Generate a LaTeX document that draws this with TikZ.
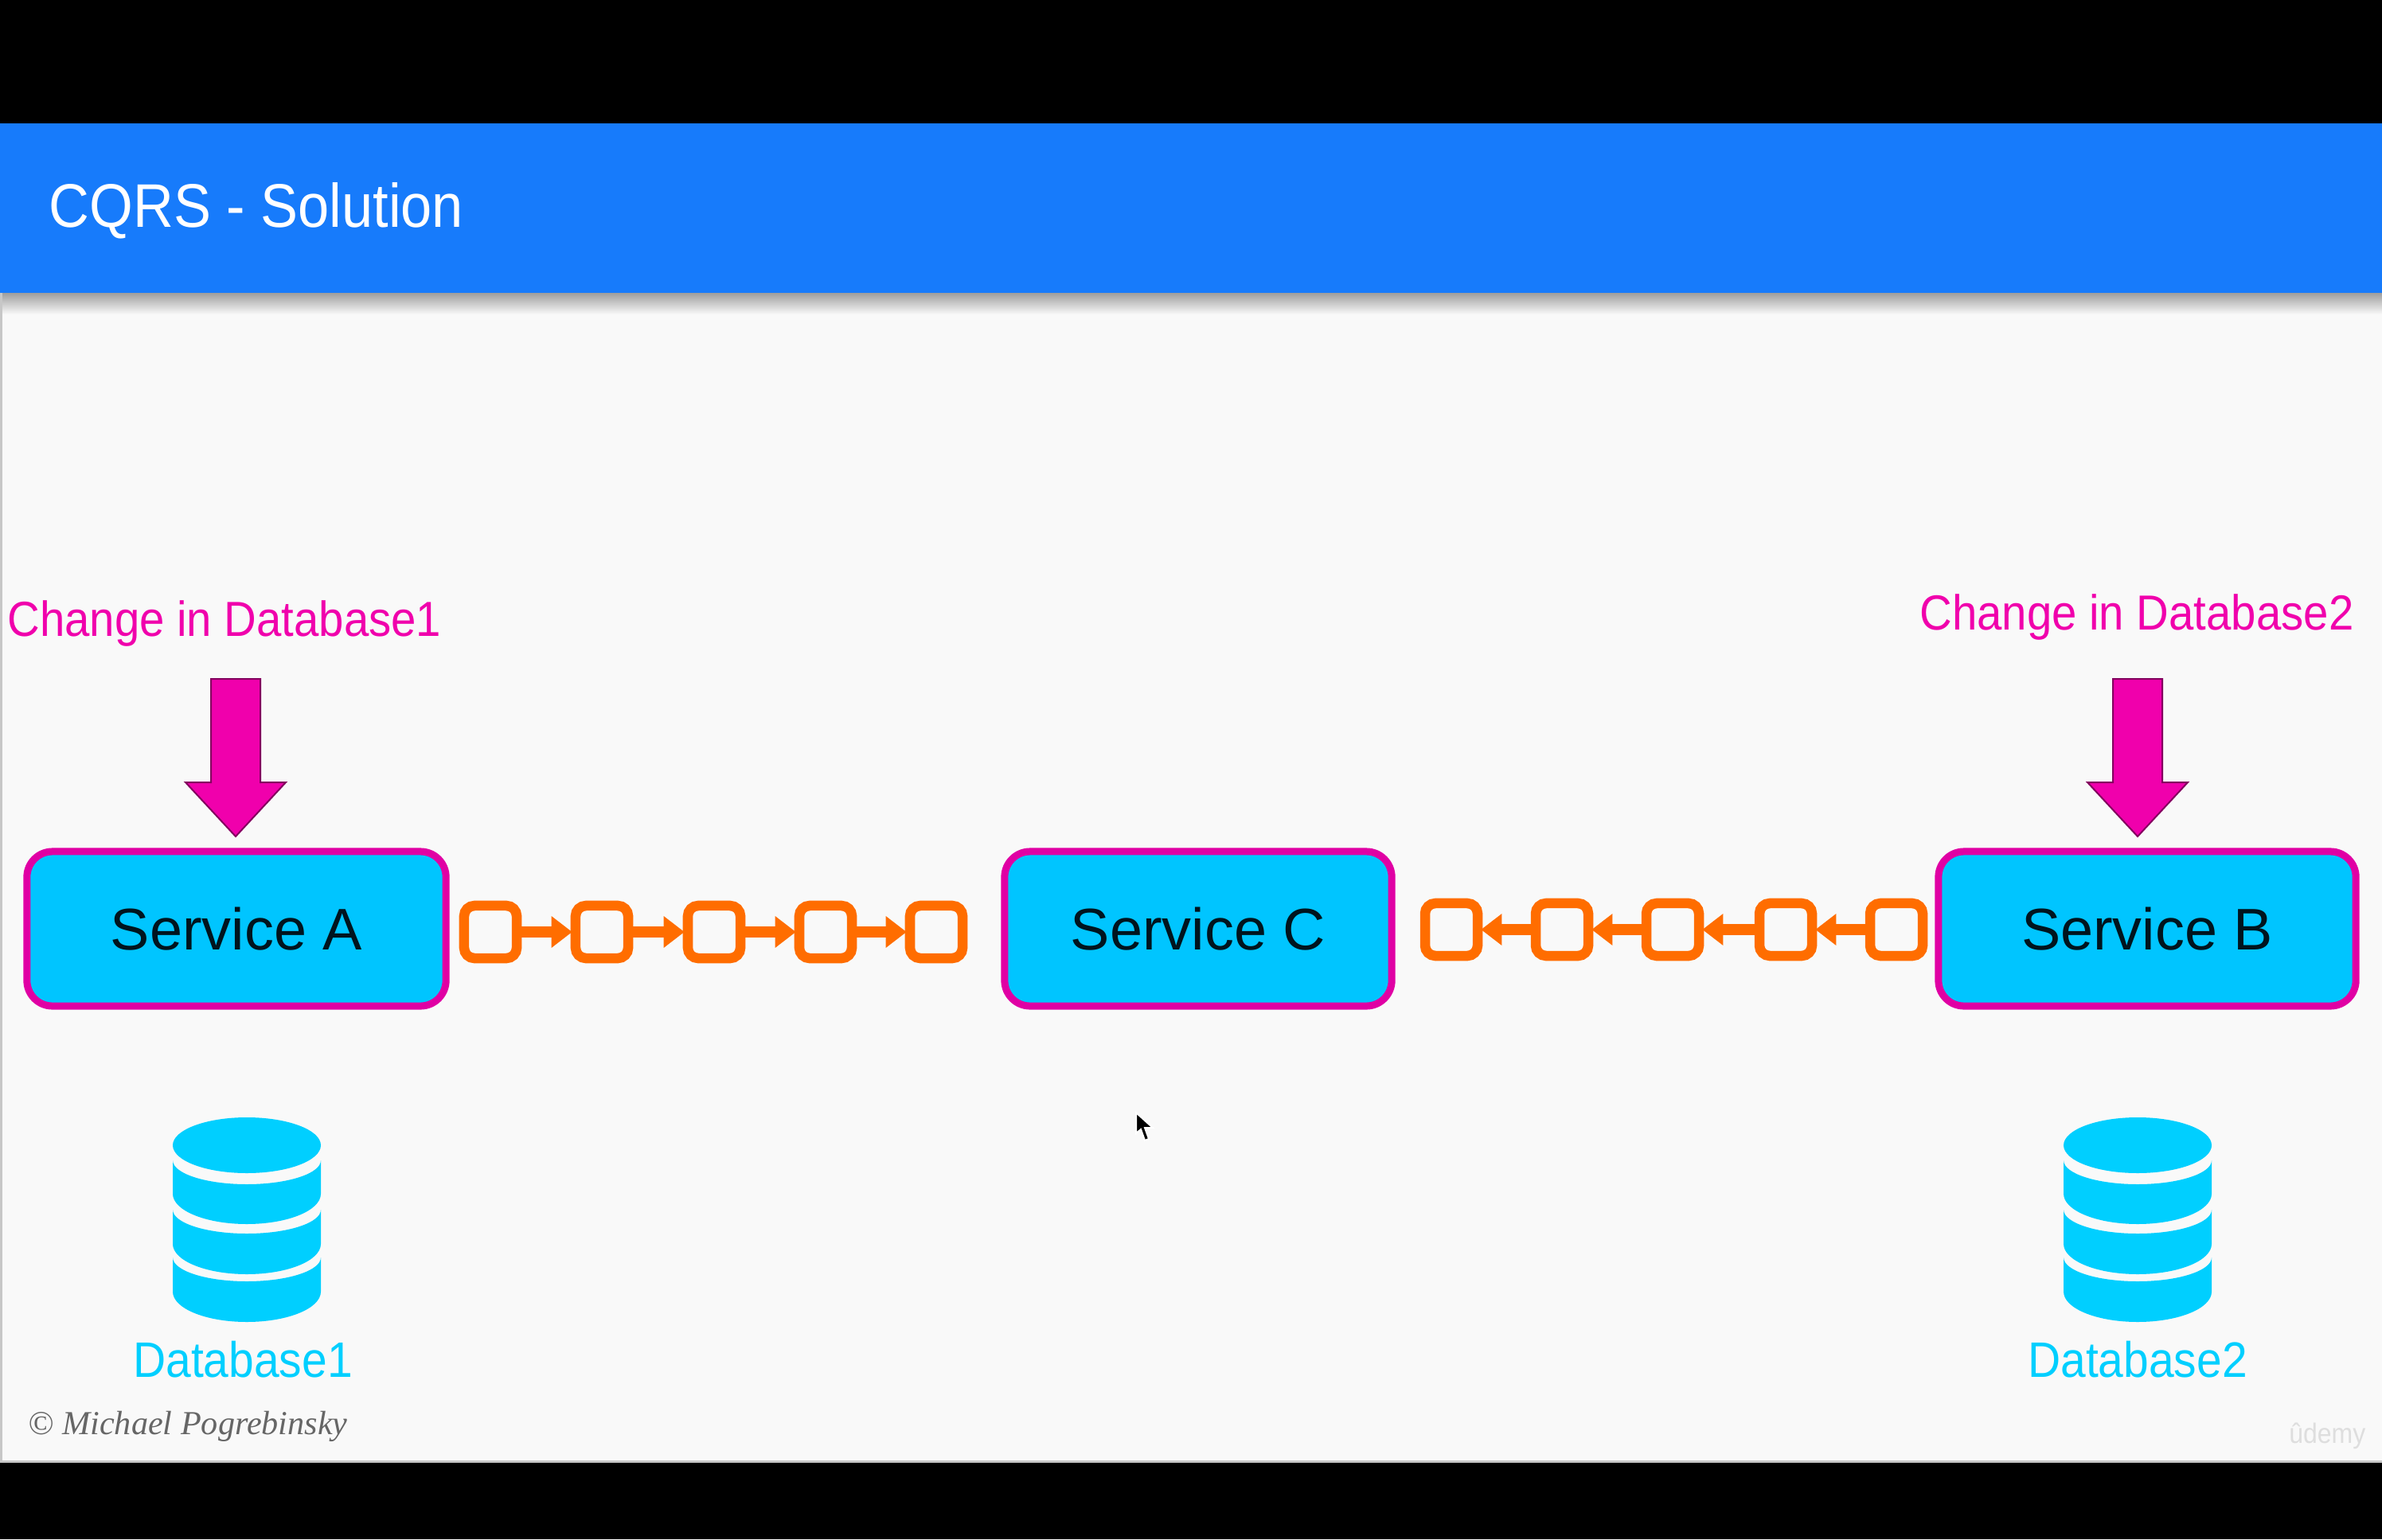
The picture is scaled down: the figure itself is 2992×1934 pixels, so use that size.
\documentclass[tikz,border=0pt]{standalone}
\usepackage{fontspec}
\setmainfont[FakeStretch=.91]{Liberation Sans}
\newfontfamily\boxfont{Liberation Sans}
\newfontfamily\signfont{Liberation Serif}
\usetikzlibrary{arrows.meta,shadings}
\definecolor{BarClr}{HTML}{177BFB}
\definecolor{PageClr}{HTML}{F9F9F9}
\definecolor{ServiceClr}{HTML}{00C5FF}
\definecolor{DbClr}{HTML}{00CFFF}
\definecolor{EdgeClr}{HTML}{E000A4}
\definecolor{ChangeClr}{HTML}{F000AC}
\definecolor{ChainClr}{HTML}{FF6D00}
\definecolor{InkClr}{HTML}{00141E}
\tikzset{
  service/.style={draw=EdgeClr,fill=ServiceClr,line width=.09cm,rounded corners=.32cm,
    minimum width=#1,minimum height=1.94cm,inner sep=0pt,
    font=\boxfont\fontsize{21}{25}\selectfont,text=InkClr},
  link/.style={draw=ChainClr,line width=.125cm,rounded corners=.13cm,
    minimum width=.66cm,minimum height=.66cm,inner sep=0pt},
  hop/.style={draw=ChainClr,line width=.14cm,-{Triangle[length=.26cm,width=.38cm]},shorten >=-.02cm},
  change/.style={text=ChangeClr,font=\fontsize{17.6}{21}\selectfont},
  dblabel/.style={text=DbClr,font=\fontsize{17.8}{21}\selectfont},
  pics/dbstack/.style={code={
    \fill[DbClr] (-93,0) arc[start angle=180,end angle=540,x radius=93,y radius=35];
    \foreach \ytop/\ybot in {1458/1500,1520/1563,1580/1623}{
      \pgfmathsetmacro{\ya}{\ytop-1439}
      \pgfmathsetmacro{\yb}{\ybot-1439}
      \fill[DbClr] (-93,\ya) arc[start angle=180,end angle=0,x radius=93,y radius=30]
        -- (93,\yb) arc[start angle=0,end angle=180,x radius=93,y radius=38] -- cycle;
    }
  }}
}

\begin{document}
\begin{tikzpicture}[x=.01cm,y=-.01cm]
\useasboundingbox (0,0) rectangle (2992,1934);

% page
\fill[black] (0,0) rectangle (2992,1934);
\fill[black!22] (0,155) rectangle (2992,1838);
\fill[PageClr] (3,155) rectangle (2992,1835);
\shade[top color=black!38,bottom color=PageClr] (3,368) rectangle (2992,395);
\fill[BarClr] (0,155) rectangle (2992,368);
\node[anchor=west,inner sep=0pt,text=white,font=\fontsize{22}{26}\selectfont] (title) at (61,265) {CQRS - Solution};

% services
\node[service=5.26cm] (SrvA) at (297,1167) {Service A};
\node[service=4.86cm] (SrvC) at (1505,1167) {Service C};
\node[service=5.24cm] (SrvB) at (2697,1167) {Service B};

% left chain
\foreach \i/\x in {1/616,2/756,3/897,4/1037,5/1176}
  \node[link] (La\i) at (\x,1171) {};
\foreach \i/\j in {1/2,2/3,3/4,4/5}
  \draw[hop] (La\i) -- (La\j);

% right chain
\foreach \i/\x in {1/1823,2/1962,3/2101,4/2243,5/2382}
  \node[link] (Lb\i) at (\x,1168) {};
\foreach \i/\j in {5/4,4/3,3/2,2/1}
  \draw[hop] (Lb\i) -- (Lb\j);

% changes
\node[change] (ChgA) at (282,783) {Change in Database1};
\node[change] (ChgB) at (2684,775) {Change in Database2};
\foreach \x in {296,2685}
  \filldraw[fill=ChangeClr,draw=black!45!ChangeClr,line width=.02cm]
    (\x-31,853) -- (\x+31,853) -- (\x+31,983) -- (\x+63,983)
    -- (\x,1051) -- (\x-63,983) -- (\x-31,983) -- cycle;

% databases
\pic at (310,1439) {dbstack};
\pic at (2685,1439) {dbstack};
\node[dblabel] (DbA) at (305,1708) {Database1};
\node[dblabel] (DbB) at (2685,1708) {Database2};

% small marks
\node[anchor=west,inner sep=0pt,text=black!60,font=\signfont\itshape\fontsize{12}{14}\selectfont] (sign) at (35,1792) {© Michael Pogrebinsky};
\node[anchor=east,inner sep=0pt,text=black!13,font=\fontsize{10}{12}\selectfont] (mark) at (2972,1804) {ûdemy};
\filldraw[fill=black,draw=white,line width=.02cm] (1427,1398) -- (1427,1424) -- (1433,1419) -- (1438,1433) -- (1443,1431) -- (1438,1417) -- (1448,1417) -- cycle;
\end{tikzpicture}
\end{document}
